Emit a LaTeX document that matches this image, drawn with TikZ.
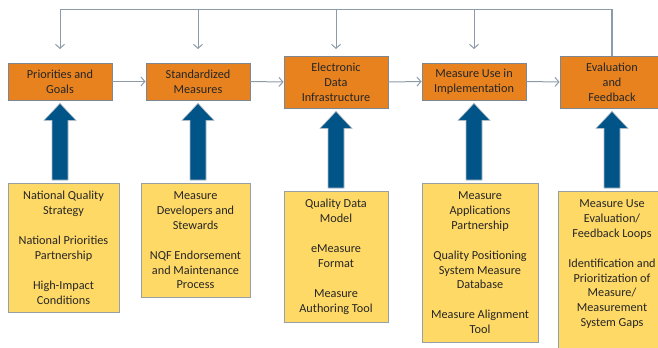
\documentclass[tikz,border=0pt]{standalone}
\usepackage{fontspec}
\setmainfont{Carlito}
\usepackage{xcolor}
\usetikzlibrary{arrows.meta,calc}
\definecolor{stageorange}{RGB}{231,130,31}
\definecolor{inputyellow}{RGB}{255,217,102}
\definecolor{arrowblue}{RGB}{0,84,136}
\definecolor{linegray}{RGB}{140,155,170}
\definecolor{boxedge}{RGB}{125,135,145}

\begin{document}
\begin{tikzpicture}[x=1bp,y=-1bp,
    stage/.style={draw=boxedge,fill=stageorange,line width=0.8bp,minimum width=104bp,minimum height=37bp,align=center,font=\fontsize{12.3}{15}\selectfont,text=black!85},
    input/.style={draw=boxedge!80,fill=inputyellow,line width=0.8bp,anchor=north,align=center,inner ysep=8bp,font=\fontsize{12.3}{15}\selectfont,text=black!85},
    flow/.style={draw=linegray,line width=1bp,-{Straight Barb[length=4bp,width=9bp]}},
    feed/.style={draw=linegray,line width=1.2bp}]
    \useasboundingbox (0,0) rectangle (658,347);
    \clip (0,0) rectangle (658,347);
    % stages
    \node[stage] (t1) at (60,81.5) {Priorities and\\Goals};
    \node[stage] (t2) at (198,81.5) {Standardized\\Measures};
    \node[stage,minimum height=52bp] (t3) at (336,82) {Electronic\\Data\\Infrastructure};
    \node[stage] (t4) at (474,81.5) {Measure Use in\\Implementation};
    \node[stage,minimum height=52bp] (t5) at (612,82) {Evaluation\\and\\Feedback};
    % inputs
    \node[input,minimum width=111bp] (b1) at (63.5,183) {National Quality\\Strategy\\[15bp]National Priorities\\Partnership\\[15bp]High-Impact\\Conditions};
    \node[input,minimum width=109bp] (b2) at (195.5,183) {Measure\\Developers and\\Stewards\\[15bp]NQF Endorsement\\and Maintenance\\Process};
    \node[input,minimum width=104bp] (b3) at (336,191) {Quality Data\\Model\\[15bp]eMeasure\\Format\\[15bp]Measure\\Authoring Tool};
    \node[input,minimum width=116bp] (b4) at (480,183) {Measure\\Applications\\Partnership\\[15bp]Quality Positioning\\System Measure\\Database\\[15bp]Measure Alignment\\Tool};
    \node[input,minimum width=108bp,text depth=40bp] (b5) at (612,191) {Measure Use\\Evaluation/\\Feedback Loops\\[15bp]Identification and\\Prioritization of\\Measure/\\Measurement\\System Gaps};
    % flow between stages
    \foreach \a/\b in {t1/t2,t2/t3,t3/t4,t4/t5}
        \draw[flow] (\a.east) -- (\b.west);
    % feedback loop
    \coordinate (fbR) at (t5.north |- 0,9.5);
    \coordinate (fbL) at (t1.north |- 0,9.5);
    \draw[feed] (t5.north) -- (fbR) -- (fbL);
    \foreach \n in {t1,t2,t3,t4}
        \draw[flow] (\n.north |- fbL) -- (\n.north |- 0,49);
    % block arrows from inputs
    \foreach \i in {1,...,5}
        \fill[arrowblue,draw=linegray!70,line width=0.6bp] let \p1=(t\i.south), \p2=(b\i.north) in
            (\x1-8bp,\y2+3bp) -- (\x1-8bp,\y1-20bp) -- (\x1-16bp,\y1-20bp) -- (\x1,\y1-3bp)
            -- (\x1+16bp,\y1-20bp) -- (\x1+8bp,\y1-20bp) -- (\x1+8bp,\y2+3bp) -- cycle;
\end{tikzpicture}
\end{document}
